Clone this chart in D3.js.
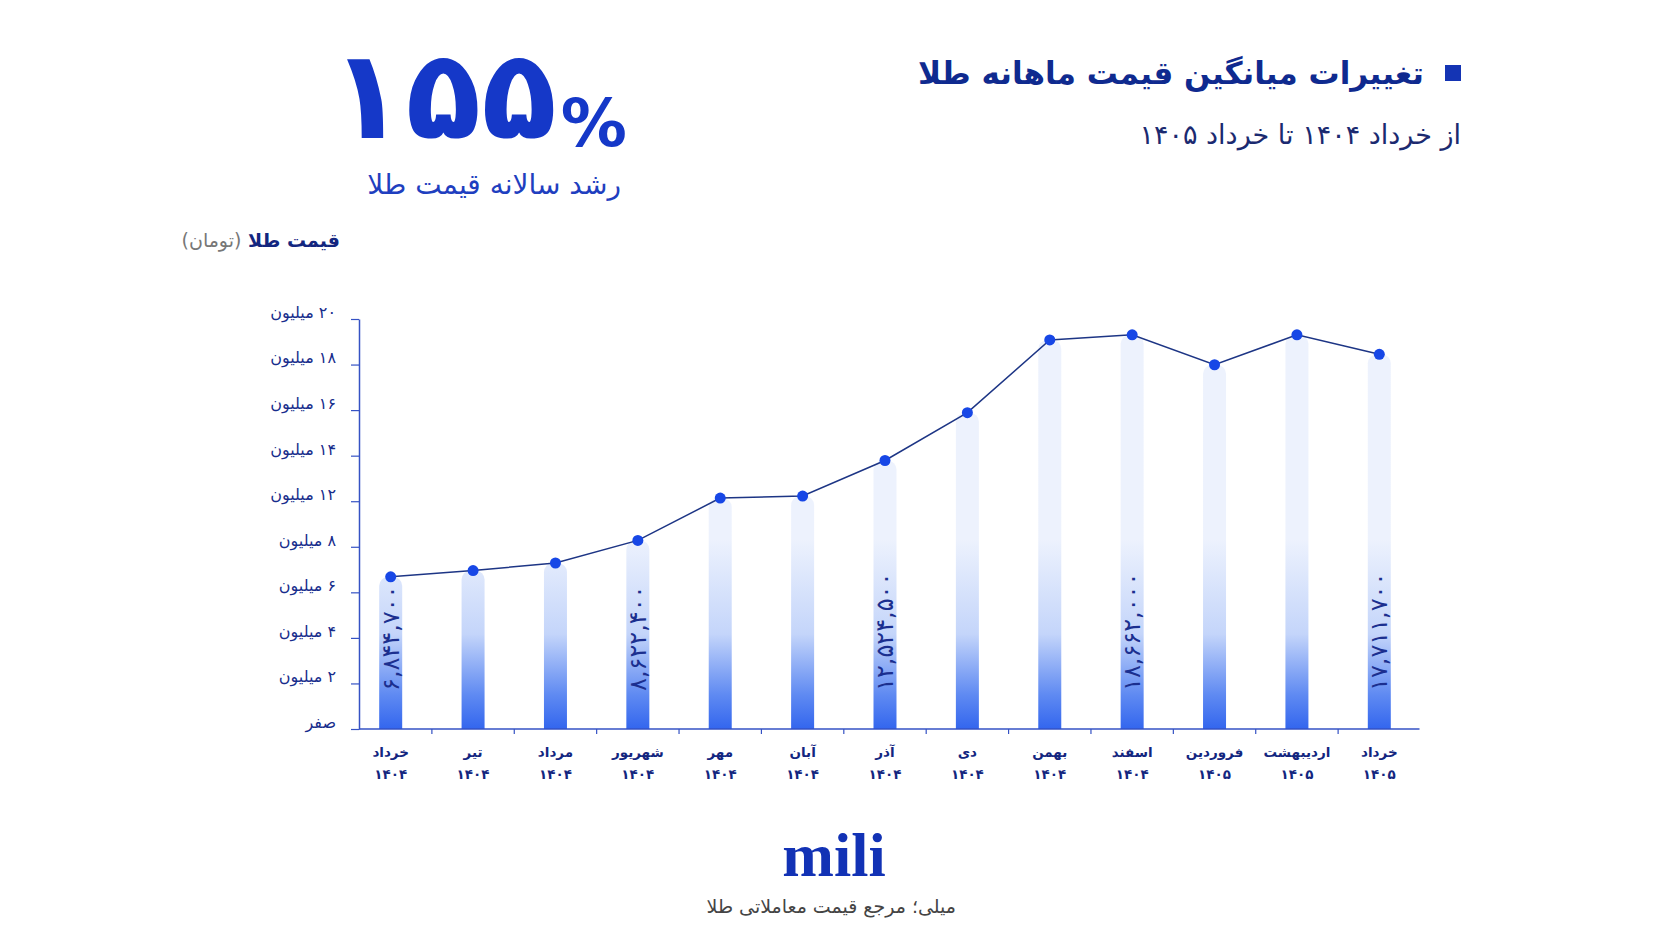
<!DOCTYPE html>
<html>
<head>
<meta charset="utf-8">
<script src="https://cdn.jsdelivr.net/npm/d3@7"></script>
<style>
  body { margin: 0; background: #ffffff; }
  svg { display: block; font-family: 'DejaVu Sans', sans-serif; }
</style>
</head>
<body>
<div id="chart"></div>
<script>
'use strict'

const WIDTH = 1672
const HEIGHT = 941

const months = ['خرداد', 'تیر', 'مرداد', 'شهریور', 'مهر', 'آبان', 'آذر', 'دی', 'بهمن', 'اسفند', 'فروردین', 'اردیبهشت', 'خرداد']
const years = ['۱۴۰۴', '۱۴۰۴', '۱۴۰۴', '۱۴۰۴', '۱۴۰۴', '۱۴۰۴', '۱۴۰۴', '۱۴۰۴', '۱۴۰۴', '۱۴۰۴', '۱۴۰۵', '۱۴۰۵', '۱۴۰۵']
const prices = [6844700, 7150000, 7520000, 8622400, 10690000, 10790000, 12524500, 14860000, 18410000, 18662000, 17200000, 18660000, 17711700]
const labeledIdx = [0, 3, 6, 9, 12]
const yTickLabels = ['صفر', '۲ میلیون', '۴ میلیون', '۶ میلیون', '۸ میلیون', '۱۲ میلیون', '۱۴ میلیون', '۱۶ میلیون', '۱۸ میلیون', '۲۰ میلیون']

const navy = '#13267f'
const axisBlue = '#3552c4'

// wrap with RLM marks so bidi lays persian text out right-to-left
function rtl (s) {
  return '\u200F' + s + '\u200F'
}

function toPersianDigits (s) {
  return s.replace(/[0-9]/g, (d) => '۰۱۲۳۴۵۶۷۸۹'[+d])
}

function barPath (x, y, w, h, r) {
  r = Math.min(r, w / 2, h)
  return `M${x},${y + h}V${y + r}A${r},${r} 0 0 1 ${x + r},${y}H${x + w - r}A${r},${r} 0 0 1 ${x + w},${y + r}V${y + h}Z`
}

const categories = months.map((m, i) => m + ' ' + years[i])

const svg = d3.select('#chart')
  .append('svg')
  .attr('width', WIDTH)
  .attr('height', HEIGHT)

// ---- headings
svg.append('rect')
  .attr('x', 1445).attr('y', 65)
  .attr('width', 16).attr('height', 16)
  .attr('fill', '#1434b4')

svg.append('text')
  .attr('x', 1424).attr('y', 84)
  .attr('text-anchor', 'end')
  .attr('font-size', 31)
  .attr('font-weight', 'bold')
  .attr('fill', '#0f2a8f')
  .text(rtl('تغییرات میانگین قیمت ماهانه طلا'))

svg.append('text')
  .attr('x', 1461).attr('y', 144)
  .attr('text-anchor', 'end')
  .attr('font-size', 27)
  .attr('fill', '#1b2a70')
  .text(rtl('از خرداد ۱۴۰۴ تا خرداد ۱۴۰۵'))

const big = svg.append('text')
  .attr('x', 627).attr('y', 138)
  .attr('text-anchor', 'end')
  .attr('font-weight', 'bold')
  .attr('fill', '#1538c8')
big.append('tspan').attr('font-size', 124).text('۱۵۵')
big.append('tspan').attr('font-size', 66).attr('dx', 4).attr('dy', 8).text('%')

svg.append('text')
  .attr('x', 621).attr('y', 194)
  .attr('text-anchor', 'end')
  .attr('font-size', 28)
  .attr('fill', '#1f3fbf')
  .text(rtl('رشد سالانه قیمت طلا'))

const unit = svg.append('text')
  .attr('x', 340).attr('y', 247)
  .attr('text-anchor', 'end')
  .attr('font-size', 19)
unit.append('tspan').attr('fill', navy).attr('font-weight', 'bold').text(rtl('قیمت طلا '))
unit.append('tspan').attr('fill', '#777').text(rtl('(تومان)'))

// ---- scales
const baseline = 729
const axisLeftX = 359

const xScale = d3.scaleBand()
  .domain(categories)
  .range([349.5, 1420.5])

const yScale = d3.scaleLinear()
  .domain([0, 20000000])
  .range([717, 307.4])

const yTickScale = d3.scalePoint()
  .domain(yTickLabels)
  .range([baseline, 319])

// ---- bars
const grad = svg.append('defs').append('linearGradient')
  .attr('id', 'barGrad')
  .attr('gradientUnits', 'userSpaceOnUse')
  .attr('x1', 0).attr('x2', 0)
  .attr('y1', baseline).attr('y2', baseline - 190)
grad.append('stop').attr('offset', 0).attr('stop-color', '#3366ee')
grad.append('stop').attr('offset', 0.18).attr('stop-color', '#5f8af2')
grad.append('stop').attr('offset', 0.5).attr('stop-color', '#c4d5fa')
grad.append('stop').attr('offset', 1).attr('stop-color', '#edf2fd')

const barW = 23
svg.append('g')
  .selectAll('path')
  .data(prices)
  .enter()
  .append('path')
  .attr('d', (v, i) => {
    const cx = xScale(categories[i]) + xScale.bandwidth() / 2
    const top = yScale(v)
    return barPath(cx - barW / 2, top, barW, baseline - top, 9)
  })
  .attr('fill', 'url(#barGrad)')

// ---- axes
const yAxis = svg.append('g')
  .attr('transform', `translate(${axisLeftX},0)`)
  .call(d3.axisLeft(yTickScale).tickSize(8).tickSizeOuter(0).tickPadding(15).tickFormat(rtl))
yAxis.select('.domain').attr('stroke', axisBlue).attr('stroke-width', 1.5)
yAxis.selectAll('.tick line').attr('stroke', axisBlue).attr('stroke-width', 1.2)
yAxis.selectAll('.tick text')
  .attr('font-size', 16)
  .attr('font-family', 'DejaVu Sans, sans-serif')
  .attr('fill', '#172d8c')
  .attr('dy', '-0.1em')

svg.append('line')
  .attr('x1', axisLeftX).attr('x2', xScale.range()[1] - 1)
  .attr('y1', baseline).attr('y2', baseline)
  .attr('stroke', axisBlue).attr('stroke-width', 1.5)

svg.append('g')
  .selectAll('line')
  .data(categories.slice(1))
  .enter()
  .append('line')
  .attr('x1', (d) => xScale(d)).attr('x2', (d) => xScale(d))
  .attr('y1', baseline).attr('y2', baseline + 5)
  .attr('stroke', axisBlue).attr('stroke-width', 1.2)

const xAxis = svg.append('g')
  .attr('transform', `translate(0,${baseline})`)
  .call(d3.axisBottom(xScale).tickSize(0).tickPadding(18).tickFormat((d, i) => months[i]))
xAxis.select('.domain').remove()
xAxis.selectAll('.tick text')
  .attr('font-size', 13.5)
  .attr('font-weight', 'bold')
  .attr('font-family', 'DejaVu Sans, sans-serif')
  .attr('fill', navy)
xAxis.selectAll('.tick')
  .append('text')
  .attr('y', 50)
  .attr('text-anchor', 'middle')
  .attr('font-size', 13.5)
  .attr('font-weight', 'bold')
  .attr('font-family', 'DejaVu Sans, sans-serif')
  .attr('fill', navy)
  .text((d, i) => years[i])

// ---- line + dots
const cx = (i) => xScale(categories[i]) + xScale.bandwidth() / 2
const line = d3.line()
  .x((v, i) => cx(i))
  .y((v) => yScale(v))

svg.append('path')
  .datum(prices)
  .attr('d', line)
  .attr('fill', 'none')
  .attr('stroke', '#1d3585')
  .attr('stroke-width', 1.5)

svg.append('g')
  .selectAll('circle')
  .data(prices)
  .enter()
  .append('circle')
  .attr('cx', (v, i) => cx(i))
  .attr('cy', (v) => yScale(v))
  .attr('r', 5.5)
  .attr('fill', '#1747e6')

// ---- rotated value labels
svg.append('g')
  .selectAll('text')
  .data(labeledIdx)
  .enter()
  .append('text')
  .attr('transform', (i) => `translate(${cx(i) + 8},${baseline - 38}) rotate(-90)`)
  .attr('font-size', 24)
  .attr('fill', '#1b2f8f')
  .text((i) => toPersianDigits(d3.format(',')(prices[i])))

// ---- footer
svg.append('text')
  .attr('x', 834).attr('y', 876)
  .attr('text-anchor', 'middle')
  .attr('font-family', 'Liberation Serif, serif')
  .attr('font-weight', 'bold')
  .attr('font-size', 62)
  .attr('fill', '#1232b5')
  .text('mili')

svg.append('text')
  .attr('x', 956).attr('y', 913)
  .attr('text-anchor', 'end')
  .attr('font-size', 19)
  .attr('fill', '#444')
  .text(rtl('میلی؛ مرجع قیمت معاملاتی طلا'))
</script>
</body>
</html>
